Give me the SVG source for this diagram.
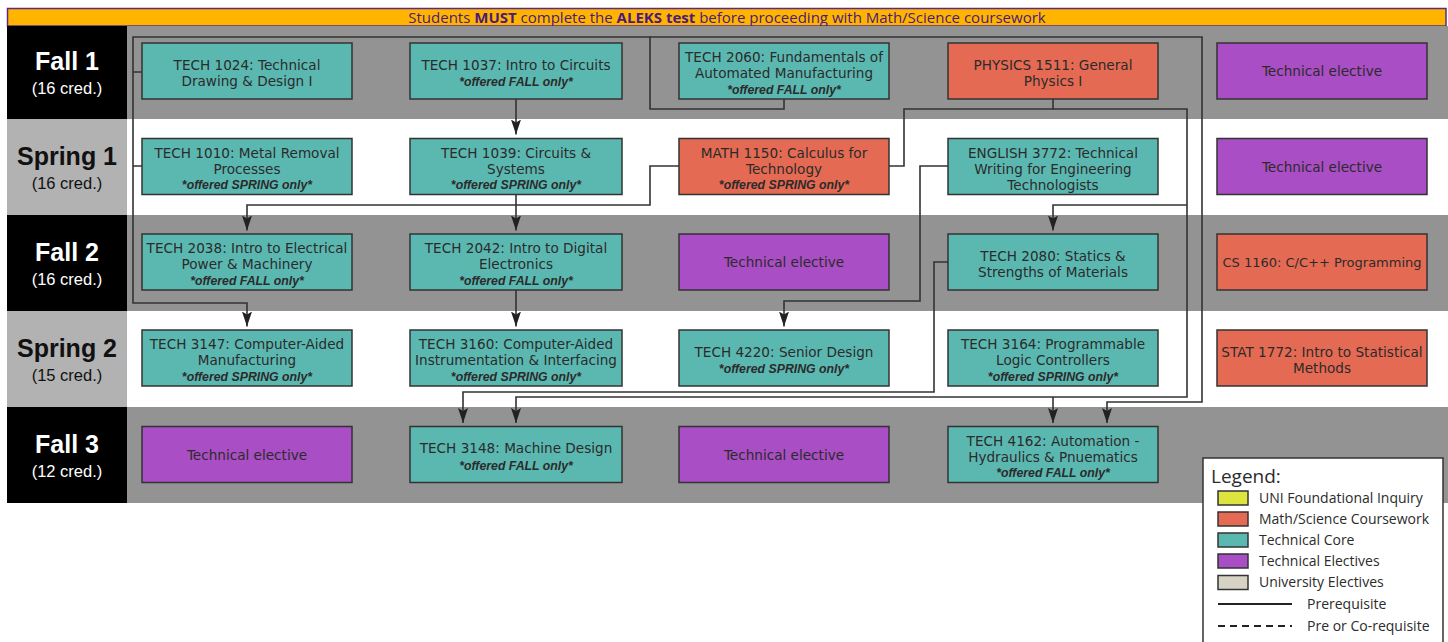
<svg xmlns="http://www.w3.org/2000/svg" width="1448" height="642" viewBox="0 0 1448 642">
<style>
.bg{fill:#939393}
.lf{fill:#000}
.ls{fill:#b2b2b2}
.lm{font-family:"Liberation Sans",Arial,sans-serif;font-weight:700;font-size:25px;text-anchor:middle}
.lc{font-family:"Liberation Sans",Arial,sans-serif;font-weight:400;font-size:16.5px}
.w{fill:#fff}
.k{fill:#111}
.box{stroke:#333;stroke-width:1.5}
.tc{fill:#5bb8b1}
.ms{fill:#e56a53}
.te{fill:#a94ec4}
.t{font-family:"DejaVu Sans",sans-serif;font-size:13.6px;fill:#2b2b2b;text-anchor:middle}
.t.sm{font-size:13px}
.n{font-family:"Liberation Sans",Arial,sans-serif;font-size:12.3px;font-weight:700;font-style:italic}
.c{fill:none;stroke:#333;stroke-width:1.6}
.lg{font-family:"Open Sans","Liberation Sans",sans-serif;font-size:14px;fill:#2b2b2b}
</style>
<defs>
<marker id="ah" viewBox="0 0 15 10" refX="15" refY="5" markerWidth="15" markerHeight="10" markerUnits="userSpaceOnUse" orient="auto">
<path d="M0,0 L15,5 L0,10 L3,5 z" fill="#222"/>
</marker>
</defs>
<rect x="0" y="0" width="1448" height="642" fill="#fff"/>
<g id="banner">
<rect x="7.5" y="8.5" width="1438.5" height="17.5" fill="#ffb400" stroke="#5b2a86" stroke-width="1.5"/>
<text x="727" y="22.5" font-family="'Open Sans','Liberation Sans',sans-serif" font-size="15px" fill="#4b1a7f" text-anchor="middle">Students <tspan font-weight="700">MUST</tspan> complete the <tspan font-weight="700">ALEKS test</tspan> before proceeding with Math/Science coursework</text>
</g>
<g id="rows">
<rect class="bg" x="127" y="26" width="1321" height="93"/>
<rect class="bg" x="127" y="215" width="1321" height="96"/>
<rect class="bg" x="127" y="407" width="1321" height="96"/>
<rect class="lf" x="7" y="26" width="120" height="93"/>
<rect class="ls" x="7" y="119" width="120" height="96"/>
<rect class="lf" x="7" y="215" width="120" height="96"/>
<rect class="ls" x="7" y="311" width="120" height="96"/>
<rect class="lf" x="7" y="407" width="120" height="96"/>
</g>
<g id="labels">
<g id="lbl-fall1"><text class="lm w" x="67" y="70">Fall 1<tspan class="lc" x="67" y="93.5">(16 cred.)</tspan></text></g>
<g id="lbl-spring1"><text class="lm k" x="67" y="165">Spring 1<tspan class="lc" x="67" y="189">(16 cred.)</tspan></text></g>
<g id="lbl-fall2"><text class="lm w" x="67" y="261">Fall 2<tspan class="lc" x="67" y="285">(16 cred.)</tspan></text></g>
<g id="lbl-spring2"><text class="lm k" x="67" y="357">Spring 2<tspan class="lc" x="67" y="381">(15 cred.)</tspan></text></g>
<g id="lbl-fall3"><text class="lm w" x="67" y="453">Fall 3<tspan class="lc" x="67" y="477">(12 cred.)</tspan></text></g>
</g>
<g id="connectors">
<path class="c" d="M784,99 V109 H650 V37 H133 V303 H247 V326.5" marker-end="url(#ah)"/>
<path class="c" d="M650,37 H1202 V402 H1107 V423" marker-end="url(#ah)"/>
<path class="c" d="M133,72 H142 M133,166 H142"/>
<path class="c" d="M516,99 V134.5" marker-end="url(#ah)"/>
<path class="c" d="M516,194.5 V230.5" marker-end="url(#ah)"/>
<path class="c" d="M679,166 H650 V205 H247 V230.5" marker-end="url(#ah)"/>
<path class="c" d="M516,290 V326.5" marker-end="url(#ah)"/>
<path class="c" d="M1053,99 V109 H904 V166 H889"/>
<path class="c" d="M1053,109 H1187 V397 H516 V423" marker-end="url(#ah)"/>
<path class="c" d="M1187,205 H1053 V230.5" marker-end="url(#ah)"/>
<path class="c" d="M1053,397 V423" marker-end="url(#ah)"/>
<path class="c" d="M948,166 H920 V301 H784 V326.5" marker-end="url(#ah)"/>
<path class="c" d="M948,262 H934 V392 H463 V423" marker-end="url(#ah)"/>
</g>
<g id="n-tech1024"><rect class="box tc" x="142" y="43" width="210" height="56"/><text class="t" x="247" y="69.5">TECH 1024: Technical<tspan x="247" y="85.5">Drawing &amp; Design I</tspan></text></g>
<g id="n-tech1037"><rect class="box tc" x="410" y="43" width="212" height="56"/><text class="t" x="516" y="69.5">TECH 1037: Intro to Circuits<tspan class="n" x="516" y="86">*offered FALL only*</tspan></text></g>
<g id="n-tech2060"><rect class="box tc" x="679" y="43" width="210" height="56"/><text class="t" x="784" y="62">TECH 2060: Fundamentals of<tspan x="784" y="78">Automated Manufacturing</tspan><tspan class="n" x="784" y="93.5">*offered FALL only*</tspan></text></g>
<g id="n-phys1511"><rect class="box ms" x="948" y="43" width="210" height="56"/><text class="t" x="1053" y="69.5">PHYSICS 1511: General<tspan x="1053" y="85.5">Physics I</tspan></text></g>
<g id="n-elec1"><rect class="box te" x="1217" y="43" width="210" height="56"/><text class="t" x="1322" y="76">Technical elective</text></g>
<g id="n-tech1010"><rect class="box tc" x="142" y="138.5" width="210" height="56"/><text class="t" x="247" y="157.5">TECH 1010: Metal Removal<tspan x="247" y="173.5">Processes</tspan><tspan class="n" x="247" y="189">*offered SPRING only*</tspan></text></g>
<g id="n-tech1039"><rect class="box tc" x="410" y="138.5" width="212" height="56"/><text class="t" x="516" y="157.5">TECH 1039: Circuits &amp;<tspan x="516" y="173.5">Systems</tspan><tspan class="n" x="516" y="189">*offered SPRING only*</tspan></text></g>
<g id="n-math1150"><rect class="box ms" x="679" y="138.5" width="210" height="56"/><text class="t" x="784" y="157.5">MATH 1150: Calculus for<tspan x="784" y="173.5">Technology</tspan><tspan class="n" x="784" y="189">*offered SPRING only*</tspan></text></g>
<g id="n-engl3772"><rect class="box tc" x="948" y="138.5" width="210" height="56"/><text class="t" x="1053" y="157.5">ENGLISH 3772: Technical<tspan x="1053" y="173.5">Writing for Engineering</tspan><tspan x="1053" y="189.5">Technologists</tspan></text></g>
<g id="n-elec2"><rect class="box te" x="1217" y="138.5" width="210" height="56"/><text class="t" x="1322" y="171.5">Technical elective</text></g>
<g id="n-tech2038"><rect class="box tc" x="142" y="234" width="210" height="56"/><text class="t" x="247" y="253">TECH 2038: Intro to Electrical<tspan x="247" y="269">Power &amp; Machinery</tspan><tspan class="n" x="247" y="284.5">*offered FALL only*</tspan></text></g>
<g id="n-tech2042"><rect class="box tc" x="410" y="234" width="212" height="56"/><text class="t" x="516" y="253">TECH 2042: Intro to Digital<tspan x="516" y="269">Electronics</tspan><tspan class="n" x="516" y="284.5">*offered FALL only*</tspan></text></g>
<g id="n-elec3"><rect class="box te" x="679" y="234" width="210" height="56"/><text class="t" x="784" y="267">Technical elective</text></g>
<g id="n-tech2080"><rect class="box tc" x="948" y="234" width="210" height="56"/><text class="t" x="1053" y="260.5">TECH 2080: Statics &amp;<tspan x="1053" y="276.5">Strengths of Materials</tspan></text></g>
<g id="n-cs1160"><rect class="box ms" x="1217" y="234" width="210" height="56"/><text class="t sm" x="1322" y="267">CS 1160: C/C++ Programming</text></g>
<g id="n-tech3147"><rect class="box tc" x="142" y="330" width="210" height="56"/><text class="t" x="247" y="349">TECH 3147: Computer-Aided<tspan x="247" y="365">Manufacturing</tspan><tspan class="n" x="247" y="380.5">*offered SPRING only*</tspan></text></g>
<g id="n-tech3160"><rect class="box tc" x="410" y="330" width="212" height="56"/><text class="t" x="516" y="349">TECH 3160: Computer-Aided<tspan x="516" y="365">Instrumentation &amp; Interfacing</tspan><tspan class="n" x="516" y="380.5">*offered SPRING only*</tspan></text></g>
<g id="n-tech4220"><rect class="box tc" x="679" y="330" width="210" height="56"/><text class="t" x="784" y="357">TECH 4220: Senior Design<tspan class="n" x="784" y="373">*offered SPRING only*</tspan></text></g>
<g id="n-tech3164"><rect class="box tc" x="948" y="330" width="210" height="56"/><text class="t" x="1053" y="349">TECH 3164: Programmable<tspan x="1053" y="365">Logic Controllers</tspan><tspan class="n" x="1053" y="380.5">*offered SPRING only*</tspan></text></g>
<g id="n-stat1772"><rect class="box ms" x="1217" y="330" width="210" height="56"/><text class="t" x="1322" y="356.5">STAT 1772: Intro to Statistical<tspan x="1322" y="372.5">Methods</tspan></text></g>
<g id="n-elec4"><rect class="box te" x="142" y="426.5" width="210" height="56"/><text class="t" x="247" y="459.5">Technical elective</text></g>
<g id="n-tech3148"><rect class="box tc" x="410" y="426.5" width="212" height="56"/><text class="t" x="516" y="453">TECH 3148: Machine Design<tspan class="n" x="516" y="469.5">*offered FALL only*</tspan></text></g>
<g id="n-elec5"><rect class="box te" x="679" y="426.5" width="210" height="56"/><text class="t" x="784" y="459.5">Technical elective</text></g>
<g id="n-tech4162"><rect class="box tc" x="948" y="426.5" width="210" height="56"/><text class="t" x="1053" y="445.5">TECH 4162: Automation -<tspan x="1053" y="461.5">Hydraulics &amp; Pnuematics</tspan><tspan class="n" x="1053" y="477">*offered FALL only*</tspan></text></g>
<g id="legend">
<rect x="1203" y="458" width="240" height="200" fill="#fff" stroke="#333" stroke-width="1.5"/>
<text x="1211" y="483" font-family="'Open Sans','Liberation Sans',sans-serif" font-size="19px" fill="#2b2b2b">Legend:</text>
<rect class="box" x="1218" y="491" width="30" height="14" fill="#dde33f"/>
<rect class="box ms" x="1218" y="512" width="30" height="14"/>
<rect class="box tc" x="1218" y="533" width="30" height="14"/>
<rect class="box te" x="1218" y="554" width="30" height="14"/>
<rect class="box" x="1218" y="575.5" width="30" height="14" fill="#d6d3c5"/>
<text class="lg" x="1259" y="503">UNI Foundational Inquiry</text>
<text class="lg" x="1259" y="524">Math/Science Coursework</text>
<text class="lg" x="1259" y="545">Technical Core</text>
<text class="lg" x="1259" y="566">Technical Electives</text>
<text class="lg" x="1259" y="587">University Electives</text>
<line x1="1218" y1="604" x2="1292" y2="604" stroke="#222" stroke-width="2"/>
<line x1="1218" y1="626" x2="1292" y2="626" stroke="#222" stroke-width="2" stroke-dasharray="7 5"/>
<text class="lg" x="1307" y="609">Prerequisite</text>
<text class="lg" x="1307" y="631">Pre or Co-requisite</text>
</g>
</svg>
